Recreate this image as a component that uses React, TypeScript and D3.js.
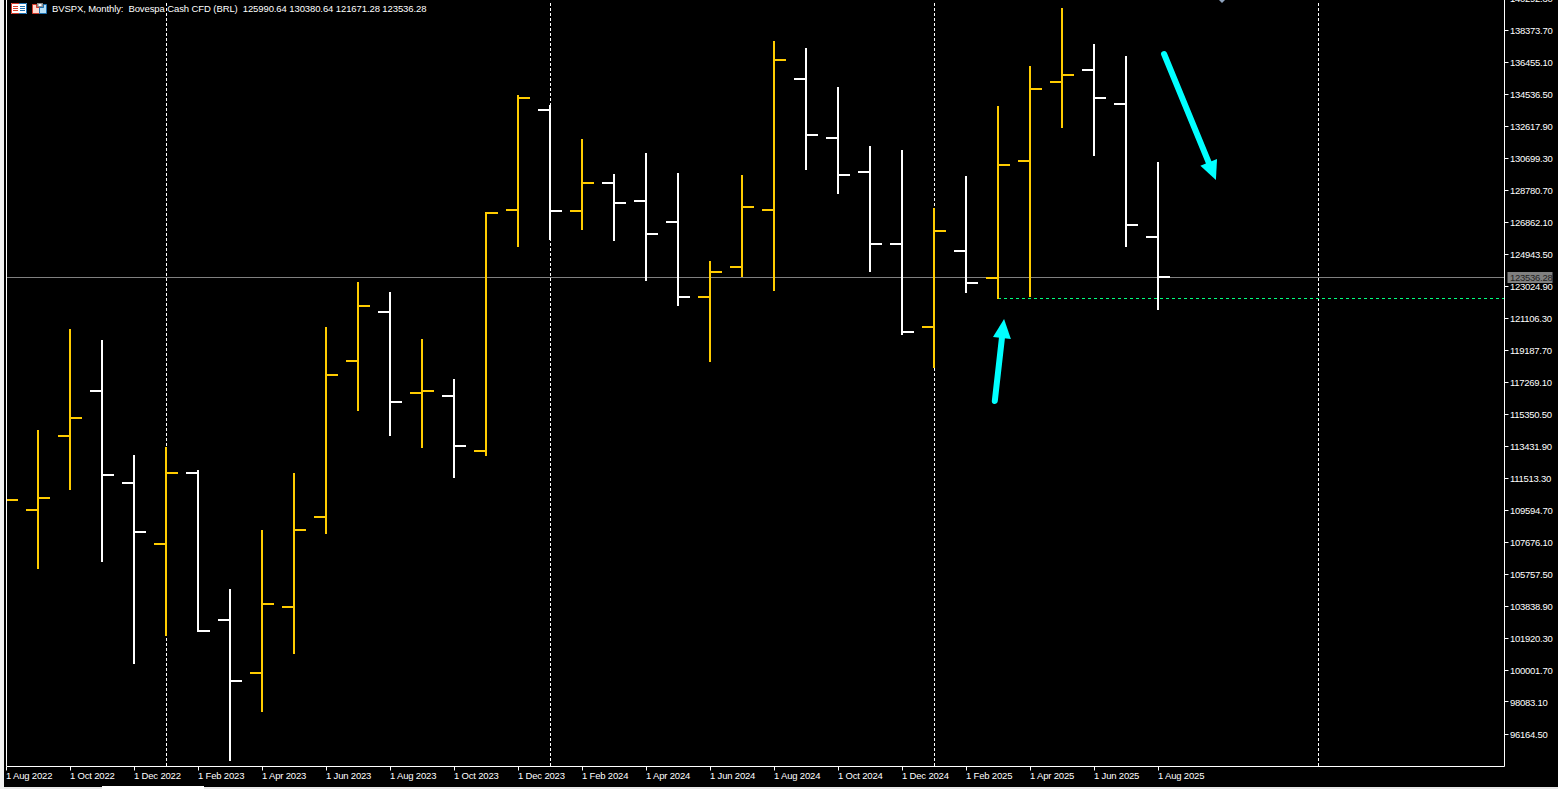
import { useEffect, useRef } from 'react'
import * as d3 from 'd3'

const title = 'BVSPX, Monthly:  Bovespa Cash CFD (BRL)  125990.64 130380.64 121671.28 123536.28'

// one entry per month, starting Aug 2022
const months = [
  '1 Aug 2022', '1 Sep 2022', '1 Oct 2022', '1 Nov 2022', '1 Dec 2022', '1 Jan 2023', '1 Feb 2023', '1 Mar 2023',
  '1 Apr 2023', '1 May 2023', '1 Jun 2023', '1 Jul 2023', '1 Aug 2023', '1 Sep 2023', '1 Oct 2023', '1 Nov 2023',
  '1 Dec 2023', '1 Jan 2024', '1 Feb 2024', '1 Mar 2024', '1 Apr 2024', '1 May 2024', '1 Jun 2024', '1 Jul 2024',
  '1 Aug 2024', '1 Sep 2024', '1 Oct 2024', '1 Nov 2024', '1 Dec 2024', '1 Jan 2025', '1 Feb 2025', '1 Mar 2025',
  '1 Apr 2025', '1 May 2025', '1 Jun 2025', '1 Jul 2025', '1 Aug 2025',
]

const opens = [
  110194, 109594, 114031, 116729, 111213, 107556, 111813, 102999,
  99822, 103779, 109175, 118528, 121466, 116609, 116429, 113132,
  127581, 133577, 127521, 129200, 128121, 126862, 122365, 124164,
  127581, 135436, 131898, 129860, 125543, 120566, 125123, 123504,
  130519, 135256, 135976, 133937, 125990.64,
]
const highs = [
  112600, 114390, 120446, 119787, 112892, 113372, 111993, 104858,
  108395, 111813, 120566, 123264, 122665, 119847, 117449, 127461,
  134476, 133877, 131838, 129740, 130999, 129800, 124523, 129680,
  137714, 137295, 134956, 131419, 131179, 127701, 129620, 133817,
  136215, 139693, 137534, 136815, 130459,
]
const lows = [
  108800, 106057, 110794, 106477, 100361, 102040, 102280, 94545,
  97483, 100961, 108155, 115530, 114031, 113312, 111513, 112832,
  125363, 125783, 126382, 125723, 123324, 121825, 118468, 123564,
  122725, 129980, 128541, 123864, 120087, 118108, 122605, 122245,
  122365, 132498, 130819, 125363, 121586,
]
const closes = [
  110194, 110314, 115110, 111693, 108275, 111813, 102340, 99342,
  103959, 108395, 117688, 121825, 116070, 116729, 113432, 127401,
  134297, 127521, 129200, 128001, 126142, 122365, 123864, 127761,
  136575, 132078, 129680, 125543, 120267, 126322, 123204, 130280,
  134836, 135676, 134297, 126682, 123564,
]

const priceTicks = [
  140292.3, 138373.7, 136455.1, 134536.5, 132617.9, 130699.3, 128780.7, 126862.1, 124943.5, 123024.9, 121106.3,
  119187.7, 117269.1, 115350.5, 113431.9, 111513.3, 109594.7, 107676.1, 105757.5, 103838.9, 101920.3, 100001.7,
  98083.1, 96164.5,
]

// month positions of the period separators, the last one is past the data
const separators = [5, 17, 29, 41]

const lastPrice = 123536.28
const supportPrice = 122275
const supportFrom = 31

// hand drawn arrows, [month index, price]
const arrows: [number, number][][] = [
  [[36.19, 136935], [37.81, 129380]],
  [[30.9, 116130], [31.19, 121040]],
]

const BULL = '#ffcc00'
const BEAR = '#ffffff'
const CYAN = '#00ffff'
const FONT = '"Liberation Sans", sans-serif'

const W = 1558
const H = 789

export default function App() {
  const svgRef = useRef<SVGSVGElement>(null)

  useEffect(() => {
    if (!svgRef.current) return
    const svg = d3.select(svgRef.current)
    svg.selectAll('*').remove()

    const left = 6.5
    const right = 1504.5
    const bottom = 766.5

    const x = d3.scaleLinear().domain([0, 1]).range([6, 38])
    const y = d3.scaleLinear().domain([138373.7, 96164.5]).range([30, 734])

    // keep the 2px bar strokes on whole pixels
    const py = (v: number) => Math.round(y(v))
    const hairline = (v: number) => Math.floor(y(v)) + 0.5

    const label = (sel: any, spacing = -0.28) =>
      sel.attr('font-family', FONT).attr('font-size', 9.5).attr('letter-spacing', spacing).attr('fill', '#fff')

    svg.append('rect').attr('width', W).attr('height', H).attr('fill', '#000')
    svg.append('rect').attr('width', 4).attr('height', H).attr('fill', '#f0f0f0')

    // bottom tab strip
    svg.append('rect').attr('x', 4).attr('y', 787).attr('width', W).attr('height', 2).attr('fill', '#e8e8e8')
    svg.append('rect').attr('x', 102).attr('y', 786).attr('width', 102).attr('height', 3).attr('fill', '#fff')

    svg.append('clipPath').attr('id', 'plot').append('rect')
      .attr('x', left).attr('y', 0).attr('width', right - left).attr('height', bottom)

    const plot = svg.append('g').attr('clip-path', 'url(#plot)')

    plot.selectAll('line.sep').data(separators).join('line')
      .attr('class', 'sep')
      .attr('x1', d => x(d) + 0.5).attr('x2', d => x(d) + 0.5)
      .attr('y1', 3).attr('y2', bottom)
      .attr('stroke', '#fff').attr('stroke-dasharray', '3,2')

    plot.append('line')
      .attr('x1', left).attr('x2', right)
      .attr('y1', hairline(lastPrice)).attr('y2', hairline(lastPrice))
      .attr('stroke', '#808080')

    plot.append('line')
      .attr('x1', x(supportFrom)).attr('x2', right)
      .attr('y1', hairline(supportPrice)).attr('y2', hairline(supportPrice))
      .attr('stroke', '#00ff7f').attr('stroke-dasharray', '3,3')

    // OHLC bars
    const bars = plot.selectAll('g.bar').data(months).join('g').attr('class', 'bar')
      .attr('stroke', (_, i) => (closes[i] >= opens[i] ? BULL : BEAR))
      .attr('stroke-width', 2)
    bars.append('line')
      .attr('x1', (_, i) => x(i)).attr('x2', (_, i) => x(i))
      .attr('y1', (_, i) => py(highs[i])).attr('y2', (_, i) => py(lows[i]))
    bars.append('line')
      .attr('x1', (_, i) => x(i) - 12).attr('x2', (_, i) => x(i))
      .attr('y1', (_, i) => py(opens[i])).attr('y2', (_, i) => py(opens[i]))
    bars.append('line')
      .attr('x1', (_, i) => x(i)).attr('x2', (_, i) => x(i) + 12)
      .attr('y1', (_, i) => py(closes[i])).attr('y2', (_, i) => py(closes[i]))

    // cyan arrows
    arrows.forEach(([from, to]) => {
      const x1 = x(from[0])
      const y1 = y(from[1])
      const x2 = x(to[0])
      const y2 = y(to[1])
      const len = Math.hypot(x2 - x1, y2 - y1)
      const ux = (x2 - x1) / len
      const uy = (y2 - y1) / len
      const headLen = 19
      const headW = 9
      plot.append('line')
        .attr('x1', x1).attr('y1', y1)
        .attr('x2', x2 - ux * headLen * 0.8).attr('y2', y2 - uy * headLen * 0.8)
        .attr('stroke', CYAN).attr('stroke-width', 6).attr('stroke-linecap', 'round')
      const bx = x2 - ux * headLen
      const by = y2 - uy * headLen
      plot.append('polygon')
        .attr('points', [[x2, y2], [bx - uy * headW, by + ux * headW], [bx + uy * headW, by - ux * headW]].join(' '))
        .attr('fill', CYAN)
    })

    // small marker cut off by the top edge
    plot.append('path').attr('d', 'M1219,0L1225,0L1222,3Z').attr('fill', '#8fa3bf')

    // frame
    svg.append('path')
      .attr('d', `M${left},0V${bottom}H${right}V0`)
      .attr('fill', 'none').attr('stroke', '#fff')

    // price axis
    const yAxis = svg.append('g')
    yAxis.selectAll('line').data(priceTicks).join('line')
      .attr('x1', right).attr('x2', right + 4)
      .attr('y1', d => hairline(d)).attr('y2', d => hairline(d))
      .attr('stroke', '#fff')
    yAxis.selectAll('text').data(priceTicks).join('text')
      .attr('x', right + 5.5).attr('y', d => y(d) + 1)
      .attr('dy', '0.35em')
      .call(label)
      .text(d => d.toFixed(2))

    svg.append('rect')
      .attr('x', right + 3).attr('y', Math.floor(y(lastPrice)) - 5)
      .attr('width', 45).attr('height', 11).attr('fill', '#808080')
    svg.append('text')
      .attr('x', right + 5.5).attr('y', y(lastPrice) + 0.5)
      .attr('dy', '0.35em')
      .call(label)
      .attr('fill', '#222')
      .text(lastPrice.toFixed(2))

    // time axis, every second month
    const xTicks = months.map((m, i) => ({ m, i })).filter(d => d.i % 2 === 0)
    const xAxis = svg.append('g')
    xAxis.selectAll('line').data(xTicks).join('line')
      .attr('x1', d => x(d.i) + 0.5).attr('x2', d => x(d.i) + 0.5)
      .attr('y1', bottom).attr('y2', bottom + 4)
      .attr('stroke', '#fff')
    xAxis.selectAll('text').data(xTicks).join('text')
      .attr('x', d => x(d.i)).attr('y', bottom + 12)
      .call(label, -0.18)
      .text(d => d.m)

    // toolbar icons in front of the title
    const icons = svg.append('g').attr('stroke-width', 1)
    icons.append('rect').attr('x', 11).attr('y', 3).attr('width', 16).attr('height', 11).attr('fill', '#fff')
    icons.append('path').attr('d', 'M19,3.5H11.5V13.5H19').attr('fill', 'none').attr('stroke', '#d03a2a')
    icons.append('path').attr('d', 'M19,3.5H26.5V13.5H19').attr('fill', 'none').attr('stroke', '#1b6fb0')
    icons.append('path').attr('d', 'M13,6.5H18M13,8.5H18M13,10.5H18').attr('stroke', '#d9412b')
    icons.append('path').attr('d', 'M20,6.5H25M20,8.5H25M20,10.5H25').attr('stroke', '#1b6fb0')
    icons.append('path').attr('d', 'M39.5,13.5H32.5V4.5H36.5V7.5H39.5Z').attr('fill', '#ffd9cf').attr('stroke', '#d03a2a')
    icons.append('path').attr('d', 'M39.5,13.5H46.5V4.5H43.5V7.5H39.5Z').attr('fill', '#b5dff7').attr('stroke', '#1b6fb0')
    icons.append('rect').attr('x', 37).attr('y', 3).attr('width', 6).attr('height', 4).attr('fill', '#8a8a8a')
    icons.append('rect').attr('x', 38.5).attr('y', 4).attr('width', 3).attr('height', 2).attr('fill', '#fff')

    svg.append('text')
      .attr('x', 52).attr('y', 12)
      .call(label, -0.1)
      .style('white-space', 'pre')
      .text(title)
  }, [])

  return (
    <svg
      ref={svgRef}
      width={W}
      height={H}
      viewBox={`0 0 ${W} ${H}`}
      style={{ position: 'fixed', left: 0, top: 0, display: 'block' }}
    />
  )
}
